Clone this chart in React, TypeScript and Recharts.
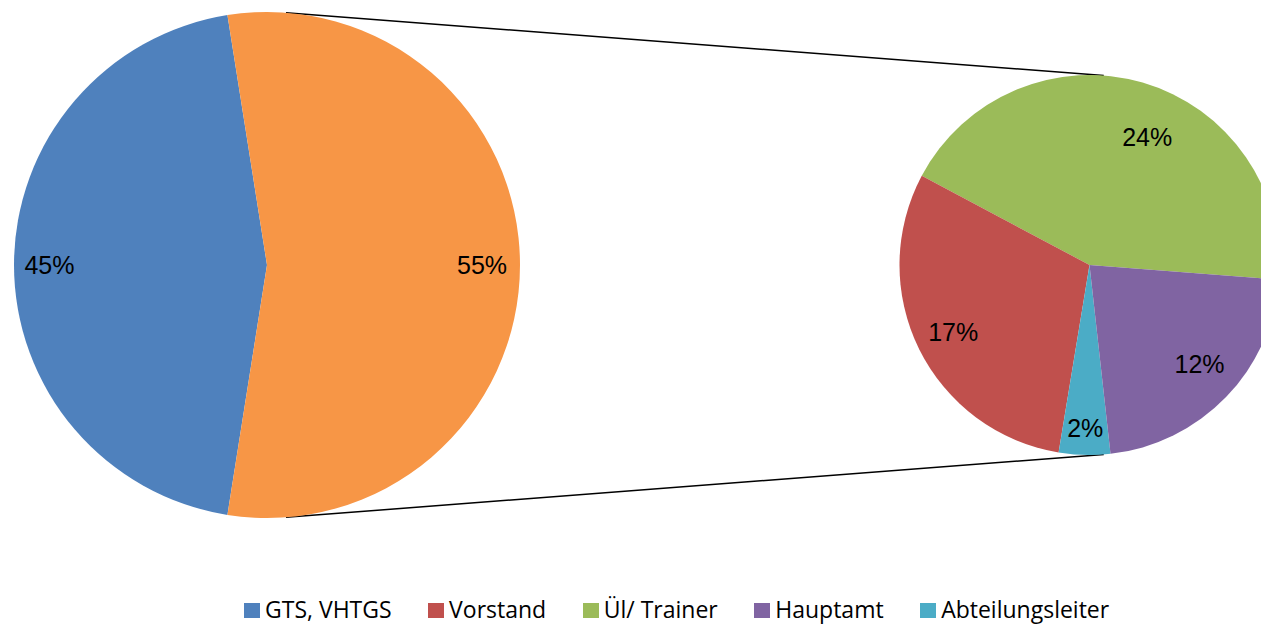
import { PieChart, Pie, Cell, Legend, Customized } from 'recharts'

// left pie: GTS vs. the rest (broken out on the right)
const mainNames = ['GTS, VHTGS', 'Andere']
const mainValues = [45, 55]
const mainColors = ['#4F81BD', '#F79646']

// right pie: breakdown of the 55%
const subNames = ['Ül/ Trainer', 'Vorstand', 'Abteilungsleiter', 'Hauptamt']
const subValues = [23.9, 16.6, 2.4, 12.1]
const subColors = ['#9BBB59', '#C0504D', '#4BACC6', '#8064A2']

const legendNames = ['GTS, VHTGS', 'Vorstand', 'Ül/ Trainer', 'Hauptamt', 'Abteilungsleiter']
const legendColors = ['#4F81BD', '#C0504D', '#9BBB59', '#8064A2', '#4BACC6']

const TOTAL = 100
const RAD = Math.PI / 180

const LEFT = { cx: 267, cy: 265, r: 253 }
const RIGHT = { cx: 1089.5, cy: 265, r: 190 }

// label tweaks (radius factor / angle shift) per slice
const labelTweak: Record<string, { f: number; da: number }> = {
  'GTS, VHTGS': { f: 0.86, da: 0 },
  Andere: { f: 0.85, da: 0 },
  'Ül/ Trainer': { f: 0.74, da: -8 },
  Vorstand: { f: 0.8, da: 0 },
  Abteilungsleiter: { f: 0.86, da: 0 },
  Hauptamt: { f: 0.78, da: 2 },
}

const mainData = mainNames.map((name, i) => ({ name, value: mainValues[i] }))
const subData = subNames.map((name, i) => ({ name, value: subValues[i] }))

function renderLabel(props: any) {
  const { cx, cy, midAngle, outerRadius, value, name } = props
  const t = labelTweak[name] || { f: 0.8, da: 0 }
  const a = (midAngle + t.da) * RAD
  const x = cx + outerRadius * t.f * Math.cos(a)
  const y = cy - outerRadius * t.f * Math.sin(a)
  return (
    <text
      x={x}
      y={y}
      fill="#000"
      fontSize={25}
      fontFamily="'Liberation Sans', Arial, sans-serif"
      textAnchor="middle"
      dominantBaseline="central"
    >
      {`${Math.round((value / TOTAL) * 100)}%`}
    </text>
  )
}

function Connectors() {
  const ang = 85.7 * RAD
  const pt = (c: typeof LEFT, s: number) => ({
    x: c.cx + c.r * Math.cos(ang),
    y: c.cy - s * c.r * Math.sin(ang),
  })
  const lines = [1, -1].map((s) => [pt(LEFT, s), pt(RIGHT, s)])
  return (
    <g>
      {lines.map(([a, b], i) => (
        <line key={i} x1={a.x} y1={a.y} x2={b.x} y2={b.y} stroke="#000" strokeWidth={1.5} />
      ))}
    </g>
  )
}

function LegendContent() {
  return (
    <div
      style={{
        display: 'flex',
        alignItems: 'center',
        fontFamily: "'Open Sans', sans-serif",
        fontSize: 23,
        lineHeight: '24px',
        color: '#000',
        whiteSpace: 'nowrap',
      }}
    >
      {legendNames.map((n, i) => (
        <div key={n} style={{ display: 'flex', alignItems: 'center', marginRight: 36.5 }}>
          <span
            style={{
              display: 'inline-block',
              width: 16,
              height: 15,
              background: legendColors[i],
              marginRight: 5,
              marginTop: 3,
            }}
          />
          <span>{n}</span>
        </div>
      ))}
    </div>
  )
}

export default function App() {
  return (
    <div
      style={{
        position: 'absolute',
        left: 0,
        top: 0,
        width: 1261,
        height: 626,
        overflow: 'hidden',
        background: '#fff',
      }}
    >
      <PieChart width={1261} height={626} margin={{ top: 0, right: 0, bottom: 0, left: 0 }}>
        <Customized component={Connectors} />
        <Pie
          data={mainData}
          dataKey="value"
          nameKey="name"
          cx={LEFT.cx}
          cy={LEFT.cy}
          outerRadius={LEFT.r}
          startAngle={99}
          endAngle={459}
          stroke="none"
          label={renderLabel}
          labelLine={false}
          isAnimationActive={false}
        >
          {mainData.map((d, i) => (
            <Cell key={d.name} fill={mainColors[i]} />
          ))}
        </Pie>
        <Pie
          data={subData}
          dataKey="value"
          nameKey="name"
          cx={RIGHT.cx}
          cy={RIGHT.cy}
          outerRadius={RIGHT.r}
          startAngle={-4.45}
          endAngle={355.55}
          stroke="none"
          label={renderLabel}
          labelLine={false}
          isAnimationActive={false}
        >
          {subData.map((d, i) => (
            <Cell key={d.name} fill={subColors[i]} />
          ))}
        </Pie>
        <Legend
          content={<LegendContent />}
          wrapperStyle={{ left: 244, top: 597, width: 'auto', height: 'auto' }}
        />
      </PieChart>
    </div>
  )
}
